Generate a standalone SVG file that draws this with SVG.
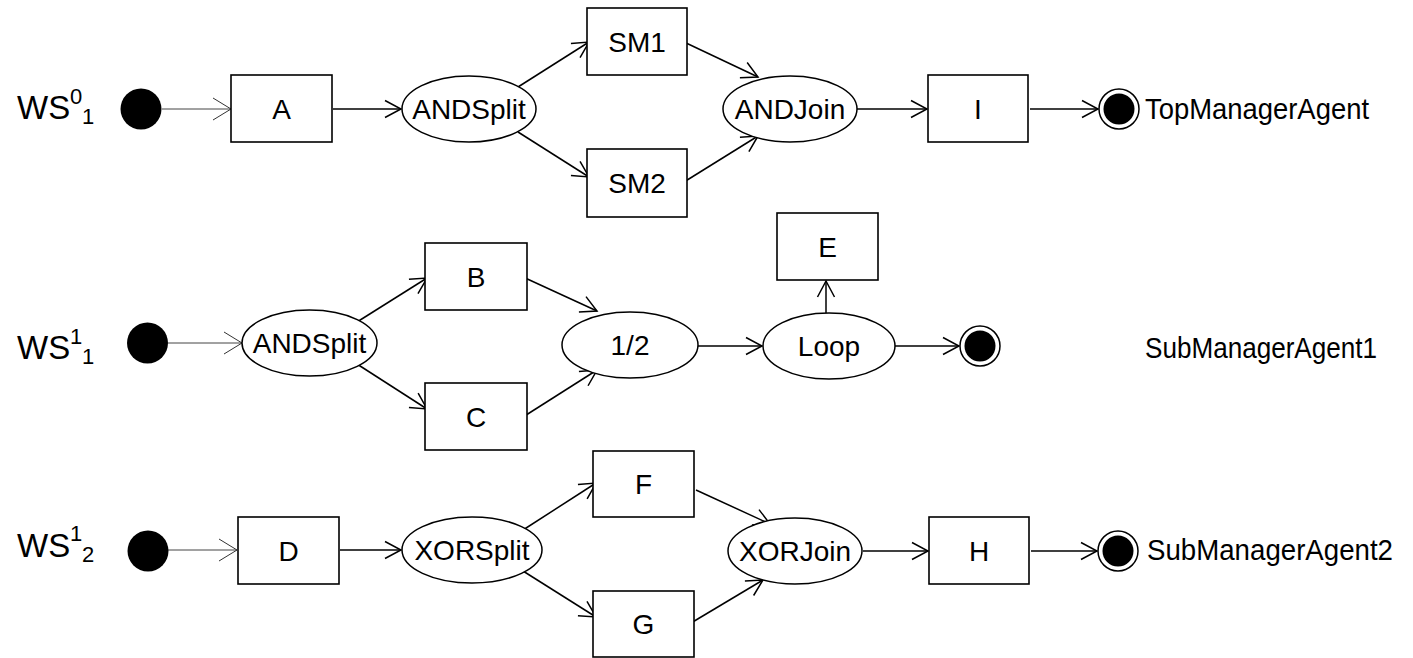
<svg xmlns="http://www.w3.org/2000/svg" width="1413" height="658" viewBox="0 0 1413 658">
<defs>
<marker id="ah" markerUnits="userSpaceOnUse" markerWidth="24" markerHeight="24" viewBox="-20 -12 24 24" refX="0" refY="0" orient="auto">
<path d="M-16,-8.5 L0,0 L-16,8.5" fill="none" stroke="#000" stroke-width="1.5"/>
</marker>
<marker id="ahs" markerUnits="userSpaceOnUse" markerWidth="26" markerHeight="28" viewBox="-22 -14 26 28" refX="0" refY="0" orient="auto">
<path d="M-18,-11 L0,0 L-18,11" fill="none" stroke="#333" stroke-width="1"/>
</marker>
</defs>
<style>
text{font-family:"Liberation Sans",Arial,sans-serif;fill:#000}
.t{font-size:28px;text-anchor:middle}
.lbl{font-size:29px}
.ws{font-size:33px}
.ix{font-size:22px}
.box{fill:#fff;stroke:#000;stroke-width:1.6}
.ell{fill:#fff;stroke:#000;stroke-width:1.5}
.start{fill:#000}
.endo{fill:#fff;stroke:#000;stroke-width:1.5}
.endi{fill:#000}
.c{stroke:#000;stroke-width:1.5;fill:none;marker-end:url(#ah)}
.cs{stroke:#444;stroke-width:1;fill:none;marker-end:url(#ahs)}
</style>
<rect width="1413" height="658" fill="#fff"/>

<g id="connectors">
<line class="cs" x1="162" y1="109" x2="231" y2="109"/>
<line class="c" x1="333" y1="109" x2="401" y2="109"/>
<line class="c" x1="518" y1="87" x2="589" y2="42"/>
<line class="c" x1="518" y1="132" x2="589" y2="177"/>
<line class="c" x1="684" y1="42" x2="758" y2="77"/>
<line class="c" x1="684" y1="182" x2="758" y2="136"/>
<line class="c" x1="857" y1="109" x2="927" y2="109"/>
<line class="c" x1="1030" y1="109" x2="1098" y2="109"/>

<line class="cs" x1="168" y1="343" x2="242" y2="343"/>
<line class="c" x1="357" y1="322" x2="427" y2="278"/>
<line class="c" x1="357" y1="364" x2="427" y2="409"/>
<line class="c" x1="523" y1="277" x2="597" y2="311"/>
<line class="c" x1="523" y1="417" x2="597" y2="370"/>
<line class="c" x1="698" y1="346" x2="762" y2="346"/>
<line class="c" x1="826" y1="313" x2="826" y2="281"/>
<line class="c" x1="895" y1="346" x2="959" y2="346"/>

<line class="cs" x1="168" y1="550" x2="237" y2="550"/>
<line class="c" x1="340" y1="550" x2="401" y2="550"/>
<line class="c" x1="523" y1="530" x2="596" y2="483"/>
<line class="c" x1="523" y1="571" x2="596" y2="617"/>
<line class="c" x1="696" y1="490" x2="770" y2="524"/>
<line class="c" x1="691" y1="623" x2="763" y2="580"/>
<line class="c" x1="863" y1="551" x2="928" y2="551"/>
<line class="c" x1="1031" y1="551" x2="1097" y2="551"/>
</g>

<g id="label-ws01"><text x="17" y="119"><tspan class="ws">WS</tspan><tspan class="ix" x="70" y="104">0</tspan><tspan class="ix" x="82" y="124">1</tspan></text></g>
<g id="start1"><circle class="start" cx="141" cy="109" r="20.5"/></g>
<g id="A"><rect class="box" x="231" y="75" width="101" height="67"/><text class="t" x="281.5" y="118.5">A</text></g>
<g id="ANDSplit1"><ellipse class="ell" cx="469" cy="109" rx="67" ry="33"/><text class="t" x="469" y="118.5">ANDSplit</text></g>
<g id="SM1"><rect class="box" x="587" y="8" width="100" height="67"/><text class="t" x="637" y="51.5">SM1</text></g>
<g id="SM2"><rect class="box" x="587" y="149" width="100" height="68"/><text class="t" x="637" y="193">SM2</text></g>
<g id="ANDJoin"><ellipse class="ell" cx="790" cy="109" rx="67" ry="33"/><text class="t" x="790" y="118.5">ANDJoin</text></g>
<g id="I"><rect class="box" x="928" y="75" width="100" height="67"/><text class="t" x="978" y="118.5">I</text></g>
<g id="end1"><circle class="endo" cx="1119" cy="109" r="20"/><circle class="endi" cx="1119" cy="109" r="15.5"/></g>
<g id="label-top"><text class="lbl" x="1145" y="118.5" textLength="224" lengthAdjust="spacingAndGlyphs">TopManagerAgent</text></g>

<g id="label-ws11"><text x="17" y="359"><tspan class="ws">WS</tspan><tspan class="ix" x="70" y="344">1</tspan><tspan class="ix" x="82" y="364">1</tspan></text></g>
<g id="start2"><circle class="start" cx="147.5" cy="343" r="20.5"/></g>
<g id="ANDSplit2"><ellipse class="ell" cx="309.5" cy="343" rx="67.5" ry="33"/><text class="t" x="309.5" y="352.5">ANDSplit</text></g>
<g id="B"><rect class="box" x="425" y="243" width="102" height="67"/><text class="t" x="476" y="286.5">B</text></g>
<g id="C"><rect class="box" x="425" y="383" width="102" height="67"/><text class="t" x="476" y="426.5">C</text></g>
<g id="half"><ellipse class="ell" cx="630" cy="345" rx="68" ry="33"/><text class="t" x="630" y="354.5">1/2</text></g>
<g id="Loop"><ellipse class="ell" cx="829" cy="346" rx="66" ry="33"/><text class="t" x="829" y="355.5">Loop</text></g>
<g id="E"><rect class="box" x="777" y="213" width="101" height="67"/><text class="t" x="827.5" y="256.5">E</text></g>
<g id="end2"><circle class="endo" cx="980" cy="346" r="20"/><circle class="endi" cx="980" cy="346" r="15.5"/></g>
<g id="label-sub1"><text class="lbl" x="1145" y="358" textLength="232" lengthAdjust="spacingAndGlyphs">SubManagerAgent1</text></g>

<g id="label-ws12"><text x="17" y="557"><tspan class="ws">WS</tspan><tspan class="ix" x="70" y="541">1</tspan><tspan class="ix" x="82" y="562">2</tspan></text></g>
<g id="start3"><circle class="start" cx="148" cy="551" r="20.5"/></g>
<g id="D"><rect class="box" x="238" y="517" width="101" height="67"/><text class="t" x="288.5" y="560.5">D</text></g>
<g id="XORSplit"><ellipse class="ell" cx="472" cy="550" rx="70" ry="33"/><text class="t" x="472" y="559.5">XORSplit</text></g>
<g id="F"><rect class="box" x="593" y="451" width="101" height="66"/><text class="t" x="643.5" y="494">F</text></g>
<g id="G"><rect class="box" x="593" y="591" width="101" height="66"/><text class="t" x="643.5" y="634">G</text></g>
<g id="XORJoin"><ellipse class="ell" cx="795" cy="551" rx="67" ry="33"/><text class="t" x="795" y="560.5">XORJoin</text></g>
<g id="H"><rect class="box" x="929" y="517" width="100" height="67"/><text class="t" x="979" y="560.5">H</text></g>
<g id="end3"><circle class="endo" cx="1118" cy="551" r="20"/><circle class="endi" cx="1118" cy="551" r="15.5"/></g>
<g id="label-sub2"><text class="lbl" x="1147" y="559.5" textLength="246" lengthAdjust="spacingAndGlyphs">SubManagerAgent2</text></g>
</svg>
